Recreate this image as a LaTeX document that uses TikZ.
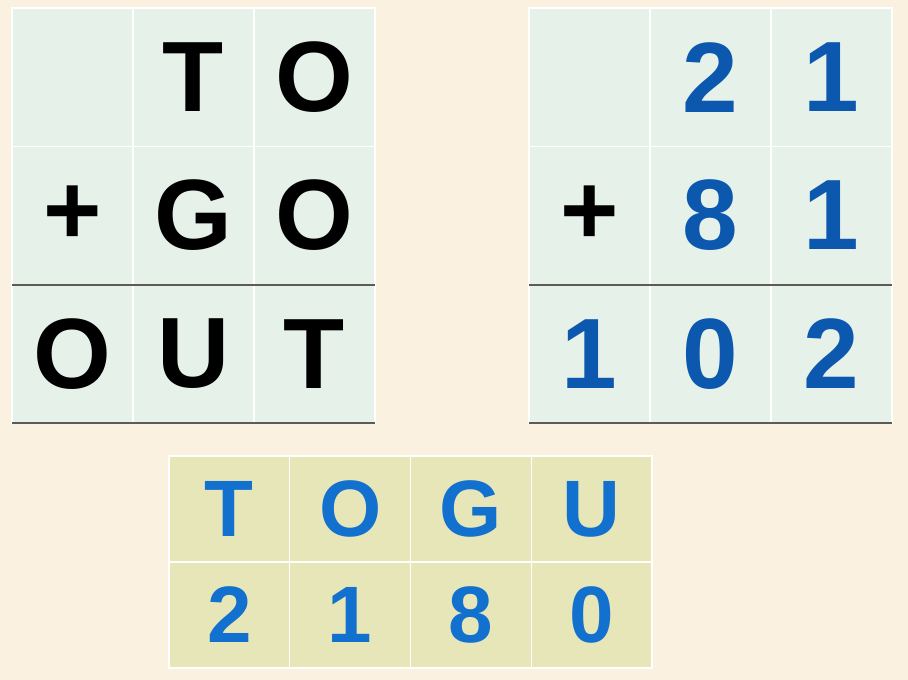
\documentclass[tikz,border=0pt]{standalone}
\usepackage{fontspec}
\setmainfont{Liberation Sans}
\usetikzlibrary{positioning}
\definecolor{colorPaper}{HTML}{FAF1E1}
\definecolor{colorGrid}{HTML}{E6F1EA}
\definecolor{colorKey}{HTML}{E6E6B9}
\definecolor{colorDigit}{HTML}{0B58AE}
\definecolor{colorKeyText}{HTML}{1270CE}
\definecolor{colorRule}{HTML}{5C5C55}
\tikzset{
  cell/.style={minimum width=121pt, minimum height=138.3pt, inner sep=0pt, outer sep=0pt,
    fill=colorGrid, draw=white, line width=1.2pt, font=\fontsize{100}{100}\selectfont\bfseries},
  keycell/.style={cell, minimum width=120.75pt, minimum height=106pt, fill=colorKey,
    text=colorKeyText, font=\fontsize{80}{80}\selectfont\bfseries},
  digit/.style={text=colorDigit},
  rule/.style={draw=colorRule, line width=2.2pt}
}
\begin{document}
\begin{tikzpicture}[node distance=0pt]
\fill[colorPaper] (0,0) rectangle (908pt,-680pt);
\useasboundingbox (0,0) rectangle (908pt,-680pt);
% letters
\node[cell] (l11) at (72.5pt,-77.2pt) {};
\node[cell, right=of l11] (l12) {T};
\node[cell, right=of l12] (l13) {O};
\node[cell, below=of l11] (l21) {+};
\node[cell, right=of l21] (l22) {G};
\node[cell, right=of l22] (l23) {O};
\node[cell, below=of l21] (l31) {O};
\node[cell, right=of l31] (l32) {U};
\node[cell, right=of l32] (l33) {T};
\draw[rule] (l31.north west) -- (l33.north east);
\draw[rule] (l31.south west) -- (l33.south east);
% digits
\node[cell] (r11) at (589.5pt,-77.2pt) {};
\node[cell, digit, right=of r11] (r12) {2};
\node[cell, digit, right=of r12] (r13) {1};
\node[cell, below=of r11] (r21) {+};
\node[cell, digit, right=of r21] (r22) {8};
\node[cell, digit, right=of r22] (r23) {1};
\node[cell, digit, below=of r21] (r31) {1};
\node[cell, digit, right=of r31] (r32) {0};
\node[cell, digit, right=of r32] (r33) {2};
\draw[rule] (r31.north west) -- (r33.north east);
\draw[rule] (r31.south west) -- (r33.south east);
% key
\node[keycell] (k11) at (229.4pt,-509pt) {T};
\node[keycell, right=of k11] (k12) {O};
\node[keycell, right=of k12] (k13) {G};
\node[keycell, right=of k13] (k14) {U};
\node[keycell, below=of k11] (k21) {2};
\node[keycell, right=of k21] (k22) {1};
\node[keycell, right=of k22] (k23) {8};
\node[keycell, right=of k23] (k24) {0};
\end{tikzpicture}
\end{document}
